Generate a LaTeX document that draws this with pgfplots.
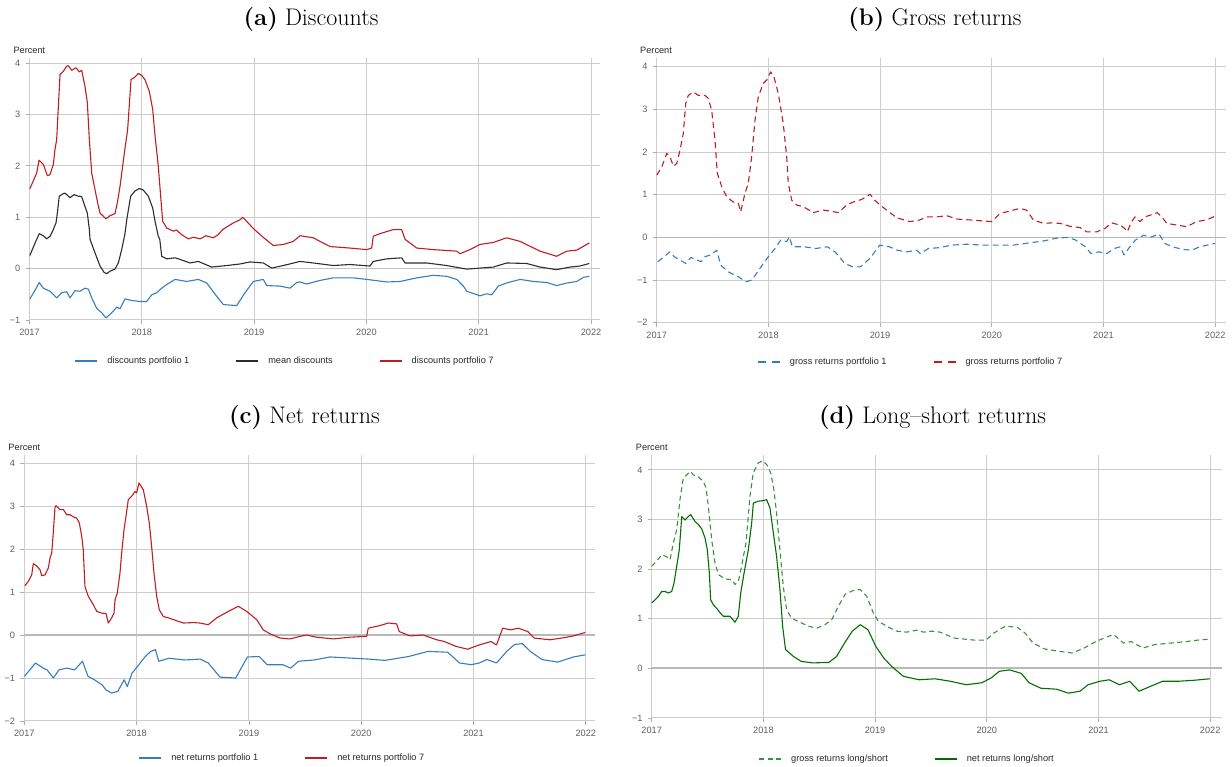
\documentclass[border=0pt]{standalone}
\usepackage{fontspec}
\usepackage{pgfplots}
\pgfplotsset{compat=1.18}
\newfontfamily\chartsans{Liberation Sans}

\definecolor{pfred}{RGB}{190,30,35}
\definecolor{pfblue}{RGB}{55,125,190}
\definecolor{pfdark}{RGB}{45,45,45}
\definecolor{pfgreen}{RGB}{0,110,0}
\definecolor{pfgreenl}{RGB}{60,145,60}
\definecolor{gridgray}{RGB}{205,205,205}
\definecolor{ticktext}{RGB}{95,95,95}
\definecolor{labeltext}{RGB}{40,40,40}

\pgfplotsset{
  panel/.style={
    scale only axis,
    anchor=south west,
    xmin=2017,
    xtick={2017,2018,2019,2020,2021,2022},
    xticklabels={2017,2018,2019,2020,2021,2022},
    grid=major,
    major grid style={gridgray, line width=1pt},
    axis line style={draw=none},
    tick align=outside,
    tick pos=left,
    major tick length=4pt,
    tick style={gridgray!85!black, line width=0.8pt},
    ticklabel style={font=\chartsans\fontsize{9.2}{10}\selectfont, text=ticktext, inner sep=0pt},
    yticklabel style={xshift=-5pt},
    xticklabel style={yshift=-5pt},
    extra y ticks={0},
    extra y tick labels={},
    extra y tick style={major grid style={gridgray!90!black, line width=1.8pt}, major tick length=0pt},
    legend columns=-1,
    legend cell align=left,
    legend style={draw=none, fill=none, inner sep=0pt, anchor=west,
      font=\chartsans\fontsize{9.2}{10}\selectfont, text=labeltext,
      nodes={inner sep=0pt},
      /tikz/every odd column/.append style={column sep=9pt},
      /tikz/every even column/.append style={column sep=46pt}},
    legend image code/.code={\draw[#1, line width=2pt] (0pt,0pt) -- (22pt,0pt);},
    every axis plot/.append style={line width=1.1pt, line join=round},
  },
  gdash/.style={dash pattern=on 6pt off 4pt},
  ldash/.style={dash pattern=on 5pt off 3.5pt},
}

\begin{document}
\begin{tikzpicture}
\path[use as bounding box] (0pt,0pt) rectangle (1232pt,767pt);

% (a) Discounts
\begin{axis}[panel, at={(29.5pt,447pt)}, width=570.5pt, height=262pt,
  xmax=2022.08, ymin=-1, ymax=4.1,
  ytick={-1,0,1,2,3,4}, yticklabels={−1,0,1,2,3,4},
  extra y tick style={major grid style={gridgray!95!black, line width=1.3pt}, major tick length=0pt},
  legend style={at={(axis description cs:0.0785,-0.1565)}}]
\addplot[pfblue] coordinates {
(2017.000,-0.60) (2017.045,-0.44) (2017.087,-0.27) (2017.123,-0.38) (2017.183,-0.44)
(2017.242,-0.57) (2017.287,-0.47) (2017.331,-0.45) (2017.361,-0.57) (2017.405,-0.43)
(2017.450,-0.44) (2017.494,-0.38) (2017.524,-0.40) (2017.554,-0.57) (2017.598,-0.77)
(2017.643,-0.86) (2017.681,-0.96) (2017.732,-0.86) (2017.777,-0.75) (2017.806,-0.78)
(2017.850,-0.59) (2017.910,-0.62) (2017.984,-0.64) (2018.044,-0.64) (2018.088,-0.51)
(2018.133,-0.47) (2018.177,-0.38) (2018.222,-0.31) (2018.296,-0.21) (2018.400,-0.25)
(2018.503,-0.21) (2018.578,-0.28) (2018.667,-0.54) (2018.726,-0.70) (2018.845,-0.72)
(2018.919,-0.47) (2018.993,-0.25) (2019.082,-0.21) (2019.112,-0.33) (2019.230,-0.34)
(2019.320,-0.38) (2019.379,-0.27) (2019.409,-0.26) (2019.468,-0.30) (2019.587,-0.23)
(2019.705,-0.18) (2019.883,-0.18) (2020.003,-0.21) (2020.181,-0.26) (2020.300,-0.25)
(2020.448,-0.18) (2020.596,-0.13) (2020.715,-0.15) (2020.804,-0.21) (2020.863,-0.34)
(2020.893,-0.44) (2021.011,-0.53) (2021.071,-0.49) (2021.116,-0.51) (2021.175,-0.34)
(2021.249,-0.28) (2021.368,-0.21) (2021.487,-0.25) (2021.605,-0.27) (2021.694,-0.33)
(2021.784,-0.28) (2021.873,-0.25) (2021.932,-0.17) (2021.985,-0.15)
};
\addlegendentry{discounts portfolio 1}
\addplot[pfdark] coordinates {
(2017.000,0.24) (2017.050,0.50) (2017.087,0.68) (2017.123,0.64) (2017.153,0.58)
(2017.183,0.63) (2017.206,0.73) (2017.236,0.89) (2017.248,1.08) (2017.265,1.41)
(2017.301,1.46) (2017.316,1.47) (2017.361,1.38) (2017.396,1.44) (2017.434,1.41)
(2017.465,1.40) (2017.494,1.21) (2017.515,1.08) (2017.533,0.76) (2017.539,0.57)
(2017.583,0.31) (2017.628,0.05) (2017.663,-0.07) (2017.687,-0.10) (2017.717,-0.05)
(2017.761,-0.01) (2017.791,0.11) (2017.821,0.37) (2017.850,0.68) (2017.866,0.95)
(2017.901,1.41) (2017.939,1.51) (2017.978,1.56) (2018.013,1.53) (2018.058,1.41)
(2018.097,1.18) (2018.118,0.92) (2018.147,0.63) (2018.160,0.57) (2018.177,0.24)
(2018.222,0.19) (2018.296,0.21) (2018.340,0.18) (2018.429,0.11) (2018.503,0.14)
(2018.622,0.03) (2018.756,0.06) (2018.874,0.09) (2018.963,0.13) (2019.082,0.11)
(2019.157,0.01) (2019.260,0.06) (2019.409,0.14) (2019.527,0.11) (2019.705,0.06)
(2019.854,0.08) (2020.032,0.05) (2020.061,0.14) (2020.181,0.19) (2020.314,0.21)
(2020.344,0.11) (2020.537,0.11) (2020.715,0.06) (2020.893,-0.01) (2021.011,0.01)
(2021.130,0.03) (2021.249,0.11) (2021.427,0.10) (2021.546,0.03) (2021.694,-0.02)
(2021.813,0.03) (2021.900,0.05) (2021.985,0.10)
};
\addlegendentry{mean discounts}
\addplot[pfred] coordinates {
(2017.000,1.54) (2017.064,1.86) (2017.085,2.11) (2017.123,2.03) (2017.159,1.81)
(2017.183,1.83) (2017.212,2.03) (2017.227,2.32) (2017.242,2.51) (2017.257,3.16)
(2017.272,3.78) (2017.301,3.84) (2017.331,3.94) (2017.346,3.95) (2017.376,3.86)
(2017.414,3.91) (2017.444,3.83) (2017.465,3.86) (2017.494,3.55) (2017.515,3.23)
(2017.533,2.51) (2017.554,1.86) (2017.583,1.54) (2017.607,1.28) (2017.628,1.08)
(2017.681,0.97) (2017.717,1.03) (2017.761,1.07) (2017.782,1.28) (2017.806,1.60)
(2017.841,2.19) (2017.874,2.71) (2017.904,3.68) (2017.939,3.73) (2017.969,3.80)
(2017.999,3.76) (2018.028,3.68) (2018.067,3.45) (2018.097,3.10) (2018.118,2.58)
(2018.147,1.99) (2018.168,1.41) (2018.186,0.92) (2018.222,0.79) (2018.281,0.73)
(2018.310,0.75) (2018.355,0.66) (2018.414,0.58) (2018.460,0.61) (2018.520,0.58)
(2018.570,0.64) (2018.637,0.60) (2018.680,0.66) (2018.720,0.76) (2018.815,0.89)
(2018.874,0.95) (2018.898,1.00) (2018.934,0.92) (2018.993,0.78) (2019.086,0.60)
(2019.171,0.45) (2019.260,0.47) (2019.349,0.53) (2019.409,0.64) (2019.470,0.62)
(2019.527,0.60) (2019.587,0.53) (2019.676,0.43) (2019.854,0.40) (2020.003,0.37)
(2020.047,0.40) (2020.061,0.63) (2020.120,0.68) (2020.240,0.76) (2020.314,0.76)
(2020.344,0.57) (2020.448,0.40) (2020.596,0.37) (2020.804,0.34) (2020.833,0.29)
(2020.922,0.37) (2021.011,0.47) (2021.130,0.51) (2021.249,0.60) (2021.368,0.53)
(2021.546,0.34) (2021.694,0.24) (2021.784,0.34) (2021.873,0.36) (2021.985,0.50)
};
\addlegendentry{discounts portfolio 7}
\end{axis}

% (b) Gross returns
\begin{axis}[panel, at={(656.7pt,444.3pt)}, width=569.3pt, height=264.4pt,
  xmax=2022.097, ymin=-2, ymax=4.2,
  ytick={-2,-1,0,1,2,3,4}, yticklabels={−2,−1,0,1,2,3,4},
  legend image post style={dash pattern=on 8pt off 6pt},
  legend style={at={(axis description cs:0.1757,-0.149)}}]
\addplot[pfblue, gdash] coordinates {
(2017.010,-0.57) (2017.069,-0.45) (2017.115,-0.34) (2017.156,-0.45) (2017.208,-0.53)
(2017.260,-0.61) (2017.306,-0.47) (2017.347,-0.52) (2017.399,-0.57) (2017.434,-0.45)
(2017.486,-0.41) (2017.538,-0.30) (2017.573,-0.65) (2017.642,-0.81) (2017.729,-0.92)
(2017.799,-1.04) (2017.851,-1.00) (2017.903,-0.81) (2017.955,-0.61) (2018.000,-0.45)
(2018.059,-0.26) (2018.111,-0.06) (2018.163,-0.10) (2018.188,0.01) (2018.215,-0.22)
(2018.319,-0.22) (2018.424,-0.26) (2018.528,-0.22) (2018.597,-0.34) (2018.684,-0.61)
(2018.753,-0.69) (2018.823,-0.69) (2018.910,-0.49) (2018.997,-0.18) (2019.083,-0.22)
(2019.153,-0.30) (2019.240,-0.34) (2019.326,-0.30) (2019.361,-0.38) (2019.431,-0.26)
(2019.535,-0.24) (2019.639,-0.18) (2019.778,-0.16) (2019.917,-0.18) (2020.021,-0.18)
(2020.194,-0.18) (2020.333,-0.13) (2020.472,-0.08) (2020.576,-0.02) (2020.681,0.00)
(2020.750,-0.06) (2020.837,-0.22) (2020.889,-0.38) (2020.958,-0.34) (2021.028,-0.38)
(2021.097,-0.26) (2021.149,-0.22) (2021.184,-0.41) (2021.236,-0.22) (2021.288,-0.06)
(2021.358,0.05) (2021.427,0.01) (2021.497,0.08) (2021.549,-0.14) (2021.618,-0.22)
(2021.705,-0.28) (2021.792,-0.30) (2021.861,-0.22) (2021.965,-0.16) (2022.000,-0.14)
};
\addlegendentry{gross returns portfolio 1}
\addplot[pfred, gdash] coordinates {
(2017.000,1.46) (2017.045,1.65) (2017.090,1.97) (2017.119,1.89) (2017.149,1.67)
(2017.179,1.73) (2017.209,2.05) (2017.238,2.44) (2017.260,3.14) (2017.283,3.33)
(2017.328,3.41) (2017.373,3.33) (2017.432,3.33) (2017.462,3.26) (2017.492,2.98)
(2017.522,2.28) (2017.543,1.50) (2017.582,1.19) (2017.627,0.95) (2017.686,0.83)
(2017.731,0.80) (2017.752,0.60) (2017.790,1.03) (2017.820,1.27) (2017.850,1.89)
(2017.880,2.75) (2017.910,3.30) (2017.954,3.61) (2017.985,3.69) (2018.021,3.88)
(2018.050,3.76) (2018.089,3.37) (2018.133,2.67) (2018.164,1.89) (2018.178,1.27)
(2018.209,0.87) (2018.253,0.76) (2018.313,0.72) (2018.402,0.58) (2018.492,0.64)
(2018.551,0.62) (2018.626,0.58) (2018.701,0.76) (2018.760,0.83) (2018.835,0.89)
(2018.910,1.01) (2018.954,0.87) (2018.999,0.76) (2019.059,0.64) (2019.149,0.46)
(2019.268,0.37) (2019.357,0.41) (2019.417,0.48) (2019.506,0.48) (2019.596,0.51)
(2019.686,0.43) (2019.805,0.41) (2019.900,0.39) (2019.999,0.37) (2020.073,0.56)
(2020.163,0.62) (2020.252,0.68) (2020.312,0.64) (2020.372,0.41) (2020.461,0.33)
(2020.536,0.34) (2020.611,0.33) (2020.700,0.26) (2020.790,0.23) (2020.850,0.13)
(2020.939,0.13) (2021.013,0.21) (2021.073,0.34) (2021.148,0.29) (2021.190,0.21)
(2021.213,0.13) (2021.252,0.37) (2021.282,0.48) (2021.327,0.37) (2021.372,0.48)
(2021.416,0.52) (2021.482,0.58) (2021.522,0.48) (2021.566,0.33) (2021.655,0.29)
(2021.745,0.25) (2021.834,0.37) (2021.924,0.41) (2022.000,0.50)
};
\addlegendentry{gross returns portfolio 7}
\end{axis}

% (c) Net returns
\begin{axis}[panel, at={(24.3pt,46pt)}, width=570.7pt, height=266pt,
  xmax=2022.082, ymin=-2, ymax=4.19,
  ytick={-2,-1,0,1,2,3,4}, yticklabels={−2,−1,0,1,2,3,4},
  legend style={at={(axis description cs:0.1995,-0.139)}}]
\addplot[pfblue] coordinates {
(2017.000,-0.96) (2017.050,-0.81) (2017.099,-0.65) (2017.168,-0.77) (2017.203,-0.81)
(2017.259,-1.00) (2017.308,-0.81) (2017.378,-0.77) (2017.448,-0.81) (2017.518,-0.61)
(2017.567,-0.96) (2017.623,-1.04) (2017.693,-1.16) (2017.728,-1.28) (2017.777,-1.35)
(2017.833,-1.31) (2017.889,-1.04) (2017.917,-1.20) (2017.959,-0.89) (2018.008,-0.73)
(2018.077,-0.50) (2018.126,-0.38) (2018.168,-0.34) (2018.197,-0.61) (2018.288,-0.54)
(2018.427,-0.58) (2018.567,-0.56) (2018.638,-0.65) (2018.743,-0.98) (2018.882,-1.00)
(2018.987,-0.51) (2019.092,-0.50) (2019.162,-0.69) (2019.302,-0.69) (2019.372,-0.77)
(2019.442,-0.61) (2019.581,-0.58) (2019.721,-0.51) (2019.931,-0.54) (2020.071,-0.56)
(2020.211,-0.59) (2020.421,-0.50) (2020.596,-0.38) (2020.771,-0.40) (2020.875,-0.65)
(2020.980,-0.69) (2021.051,-0.65) (2021.120,-0.57) (2021.205,-0.65) (2021.296,-0.38)
(2021.365,-0.22) (2021.435,-0.20) (2021.505,-0.38) (2021.610,-0.57) (2021.750,-0.63)
(2021.890,-0.51) (2021.995,-0.46)
};
\addlegendentry{net returns portfolio 1}
\addplot[pfred] coordinates {
(2017.006,1.15) (2017.036,1.25) (2017.066,1.40) (2017.080,1.66) (2017.110,1.61)
(2017.140,1.52) (2017.155,1.38) (2017.184,1.40) (2017.214,1.56) (2017.229,1.79)
(2017.244,1.91) (2017.258,2.37) (2017.273,2.96) (2017.282,3.01) (2017.318,2.92)
(2017.348,2.92) (2017.378,2.80) (2017.407,2.80) (2017.437,2.75) (2017.467,2.72)
(2017.490,2.61) (2017.511,2.30) (2017.525,1.99) (2017.540,1.13) (2017.570,0.90)
(2017.614,0.71) (2017.645,0.55) (2017.689,0.51) (2017.728,0.50) (2017.748,0.28)
(2017.778,0.40) (2017.799,0.51) (2017.808,0.82) (2017.828,0.98) (2017.852,1.44)
(2017.867,1.91) (2017.888,2.45) (2017.912,2.88) (2017.926,3.15) (2017.956,3.23)
(2017.986,3.34) (2018.001,3.31) (2018.021,3.54) (2018.060,3.38) (2018.090,2.99)
(2018.113,2.61) (2018.134,2.06) (2018.155,1.44) (2018.179,0.90) (2018.202,0.59)
(2018.238,0.43) (2018.282,0.40) (2018.327,0.36) (2018.416,0.28) (2018.505,0.29)
(2018.564,0.28) (2018.638,0.24) (2018.713,0.40) (2018.817,0.55) (2018.906,0.67)
(2018.980,0.55) (2019.069,0.36) (2019.128,0.12) (2019.188,0.03) (2019.277,-0.07)
(2019.366,-0.09) (2019.455,-0.03) (2019.514,0.00) (2019.603,-0.05) (2019.752,-0.09)
(2019.900,-0.05) (2020.049,-0.03) (2020.063,0.16) (2020.167,0.22) (2020.241,0.28)
(2020.316,0.26) (2020.339,0.08) (2020.434,-0.02) (2020.553,0.00) (2020.672,-0.11)
(2020.740,-0.15) (2020.840,-0.26) (2020.946,-0.33) (2021.051,-0.23) (2021.156,-0.15)
(2021.205,-0.23) (2021.260,0.16) (2021.330,0.12) (2021.400,0.16) (2021.484,0.08)
(2021.540,-0.07) (2021.680,-0.11) (2021.785,-0.07) (2021.890,-0.02) (2021.995,0.06)
};
\addlegendentry{net returns portfolio 7}
\end{axis}

% (d) Long-short returns
\begin{axis}[panel, at={(651.7pt,49pt)}, width=570pt, height=263pt,
  xmax=2022.103, ymin=-1, ymax=4.3,
  ytick={-1,0,1,2,3,4}, yticklabels={−1,0,1,2,3,4},
  legend style={at={(axis description cs:0.1865,-0.156)}}]
\addplot[pfgreenl, ldash] coordinates {
(2017.000,2.06) (2017.045,2.16) (2017.090,2.29) (2017.134,2.25) (2017.164,2.19)
(2017.194,2.53) (2017.224,2.80) (2017.253,3.40) (2017.283,3.84) (2017.313,3.90)
(2017.349,3.97) (2017.372,3.90) (2017.417,3.86) (2017.462,3.77) (2017.486,3.64)
(2017.507,3.27) (2017.537,2.59) (2017.567,2.12) (2017.597,1.89) (2017.657,1.80)
(2017.716,1.79) (2017.746,1.69) (2017.775,1.75) (2017.805,2.06) (2017.844,2.53)
(2017.880,3.47) (2017.909,3.94) (2017.954,4.14) (2017.993,4.18) (2018.029,4.11)
(2018.065,3.94) (2018.094,3.60) (2018.118,3.13) (2018.148,2.39) (2018.178,1.65)
(2018.208,1.18) (2018.253,1.01) (2018.328,0.93) (2018.402,0.85) (2018.477,0.81)
(2018.551,0.88) (2018.611,0.98) (2018.671,1.25) (2018.731,1.49) (2018.805,1.57)
(2018.865,1.59) (2018.925,1.45) (2018.984,1.12) (2019.029,0.95) (2019.104,0.85)
(2019.193,0.75) (2019.283,0.73) (2019.372,0.77) (2019.432,0.73) (2019.506,0.75)
(2019.581,0.73) (2019.710,0.61) (2019.886,0.57) (2019.992,0.57) (2020.062,0.71)
(2020.167,0.85) (2020.273,0.83) (2020.343,0.71) (2020.414,0.51) (2020.519,0.39)
(2020.660,0.34) (2020.765,0.31) (2020.871,0.41) (2020.976,0.54) (2021.081,0.64)
(2021.138,0.68) (2021.222,0.51) (2021.293,0.54) (2021.398,0.41) (2021.504,0.48)
(2021.645,0.51) (2021.785,0.54) (2021.891,0.57) (2021.996,0.59)
};
\addlegendentry{gross returns long/short}
\addplot[pfgreen] coordinates {
(2017.000,1.32) (2017.030,1.38) (2017.059,1.45) (2017.090,1.55) (2017.119,1.55)
(2017.149,1.52) (2017.179,1.55) (2017.200,1.72) (2017.224,2.06) (2017.247,2.39)
(2017.269,3.06) (2017.298,2.99) (2017.328,3.06) (2017.349,3.10) (2017.388,2.96)
(2017.417,2.90) (2017.448,2.81) (2017.477,2.63) (2017.498,2.39) (2017.516,1.92)
(2017.528,1.38) (2017.552,1.28) (2017.582,1.21) (2017.612,1.12) (2017.641,1.05)
(2017.701,1.05) (2017.746,0.93) (2017.775,1.05) (2017.797,1.52) (2017.827,1.92)
(2017.865,2.39) (2017.895,2.93) (2017.910,3.33) (2017.954,3.37) (2017.999,3.38)
(2018.029,3.40) (2018.059,3.23) (2018.089,2.73) (2018.118,2.26) (2018.148,1.59)
(2018.172,0.85) (2018.198,0.38) (2018.269,0.24) (2018.339,0.14) (2018.444,0.11)
(2018.586,0.12) (2018.655,0.24) (2018.726,0.51) (2018.796,0.75) (2018.867,0.88)
(2018.936,0.78) (2019.007,0.44) (2019.077,0.21) (2019.148,0.04) (2019.253,-0.16)
(2019.394,-0.23) (2019.535,-0.21) (2019.675,-0.26) (2019.816,-0.33) (2019.956,-0.29)
(2020.041,-0.19) (2020.111,-0.06) (2020.202,-0.03) (2020.308,-0.10) (2020.379,-0.29)
(2020.484,-0.40) (2020.625,-0.42) (2020.731,-0.50) (2020.835,-0.46) (2020.906,-0.33)
(2021.012,-0.26) (2021.096,-0.23) (2021.187,-0.33) (2021.279,-0.26) (2021.363,-0.46)
(2021.468,-0.36) (2021.574,-0.26) (2021.715,-0.26) (2021.855,-0.24) (2021.996,-0.21)
};
\addlegendentry{net returns long/short}
\end{axis}

% panel titles and unit labels
\begin{scope}[every node/.style={font=\fontsize{24}{28}\selectfont, anchor=base, inner sep=0pt}]
\node at (311pt,741pt) {\textbf{(a)} Discounts};
\node at (935pt,741pt) {\textbf{(b)} Gross returns};
\node at (304.5pt,343pt) {\textbf{(c)} Net returns};
\node at (932.5pt,343pt) {\textbf{(d)} Long--short returns};
\end{scope}
\begin{scope}[every node/.style={font=\chartsans\fontsize{9.2}{10}\selectfont, text=labeltext, anchor=base west, inner sep=0pt}]
\node at (13.3pt,713pt) {Percent};
\node at (640pt,713pt) {Percent};
\node at (8.3pt,316.3pt) {Percent};
\node at (635.7pt,316.3pt) {Percent};
\end{scope}
\end{tikzpicture}
\end{document}
